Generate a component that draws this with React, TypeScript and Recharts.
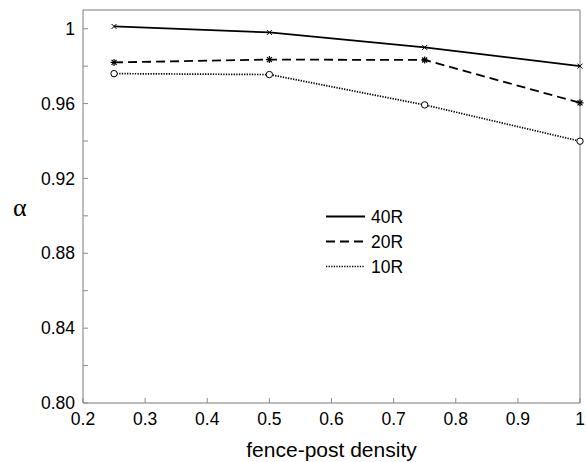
import { LineChart, Line, XAxis, YAxis, Legend } from 'recharts';

const densities = [0.25, 0.5, 0.75, 1];
const alpha40R = [1.0012, 0.998, 0.99, 0.98];
const alpha20R = [0.982, 0.9835, 0.9833, 0.9604];
const alpha10R = [0.976, 0.9755, 0.9593, 0.9399];

const xTicks = [0.2, 0.3, 0.4, 0.5, 0.6, 0.7, 0.8, 0.9, 1];
const xTickLabels = ['0.2', '0.3', '0.4', '0.5', '0.6', '0.7', '0.8', '0.9', '1'];
const yTicks = [0.8, 0.82, 0.84, 0.86, 0.88, 0.9, 0.92, 0.94, 0.96, 0.98, 1];
const yTickLabels = ['0.80', '', '0.84', '', '0.88', '', '0.92', '', '0.96', '', '1'];

const data = densities.map((x, i) => ({ x, r40: alpha40R[i], r20: alpha20R[i], r10: alpha10R[i] }));

const FONT = '"Liberation Sans", Arial, sans-serif';
const FRAME = '#7a7a7a';
const TICK = '#8c8c8c';

const SERIES = [
  { key: 'r40', name: '40R', dash: undefined, width: 1.8 },
  { key: 'r20', name: '20R', dash: '9 5', width: 1.8 },
  { key: 'r10', name: '10R', dash: '1.3 1.3', width: 1.7 },
];

const CrossDot = (p: any) => (
  <g key={p.key}>
    <line x1={p.cx - 2.5} y1={p.cy - 2.5} x2={p.cx + 2.5} y2={p.cy + 2.5} stroke="#000" strokeWidth={1} />
    <line x1={p.cx - 2.5} y1={p.cy + 2.5} x2={p.cx + 2.5} y2={p.cy - 2.5} stroke="#000" strokeWidth={1} />
  </g>
);

const StarDot = (p: any) => (
  <g key={p.key}>
    <line x1={p.cx - 3.5} y1={p.cy} x2={p.cx + 3.5} y2={p.cy} stroke="#000" strokeWidth={1.2} />
    <line x1={p.cx} y1={p.cy - 3.5} x2={p.cx} y2={p.cy + 3.5} stroke="#000" strokeWidth={1.2} />
    <line x1={p.cx - 2.5} y1={p.cy - 2.5} x2={p.cx + 2.5} y2={p.cy + 2.5} stroke="#000" strokeWidth={1.2} />
    <line x1={p.cx - 2.5} y1={p.cy + 2.5} x2={p.cx + 2.5} y2={p.cy - 2.5} stroke="#000" strokeWidth={1.2} />
  </g>
);

const CircleDot = (p: any) => (
  <circle key={p.key} cx={p.cx} cy={p.cy} r={3.2} fill="#fff" stroke="#000" strokeWidth={1} />
);

const LegendBox = () => (
  <svg width={100} height={76} style={{ display: 'block' }}>
    {SERIES.map((s, i) => {
      const y = 12.5 + i * 25;
      return (
        <g key={s.key}>
          <line x1={6} y1={y} x2={45} y2={y} stroke="#000" strokeWidth={s.width} strokeDasharray={s.dash} />
          <text x={51} y={y + 6} fontSize={17.5} fontFamily={FONT} fill="#000">{s.name}</text>
        </g>
      );
    })}
  </svg>
);

export default function App() {
  return (
    <div style={{ width: 586, height: 462, background: '#fff' }}>
      <style>{'body{margin:0}'}</style>
      <LineChart width={586} height={462} data={data} margin={{ top: 0, right: 0, bottom: 0, left: 0 }}>
        <XAxis
          dataKey="x" type="number" domain={[0.2, 1]} ticks={xTicks} interval={0}
          height={59} tickSize={-5} tickMargin={15}
          tickFormatter={(v, i) => xTickLabels[i]}
          tick={{ fill: '#000', fontSize: 17.5, fontFamily: FONT }}
          axisLine={{ stroke: FRAME }} tickLine={{ stroke: TICK }}
          label={{ value: 'fence-post density', position: 'insideBottom', offset: 5, fill: '#000', fontSize: 21, fontFamily: FONT }}
        />
        <XAxis
          xAxisId="top" orientation="top" type="number" domain={[0.2, 1]} ticks={xTicks} interval={0}
          height={10} tickSize={-5} tick={false}
          axisLine={{ stroke: FRAME }} tickLine={{ stroke: TICK }}
        />
        <YAxis
          type="number" domain={[0.8, 1.01]} ticks={yTicks} interval={0}
          width={83} tickSize={-5} tickMargin={13}
          tickFormatter={(v, i) => yTickLabels[i]}
          tick={{ fill: '#000', fontSize: 17.5, fontFamily: FONT }}
          axisLine={{ stroke: FRAME }} tickLine={{ stroke: TICK }}
          label={{ value: 'α', position: 'insideLeft', offset: 13, fill: '#000', fontSize: 26, fontFamily: '"Liberation Serif", "DejaVu Serif", serif' }}
        />
        <YAxis
          yAxisId="right" orientation="right" type="number" domain={[0.8, 1.01]} ticks={yTicks} interval={0}
          width={6} tickSize={-5} tick={false}
          axisLine={{ stroke: FRAME }} tickLine={{ stroke: TICK }}
        />
        <Legend
          layout="horizontal" verticalAlign="middle" align="center"
          content={LegendBox}
          wrapperStyle={{ left: 320, top: 204, width: 100, height: 76 }}
        />
        <Line dataKey="r40" name="40R" stroke="#000" strokeWidth={1.8} dot={CrossDot} isAnimationActive={false} />
        <Line dataKey="r20" name="20R" stroke="#000" strokeWidth={1.8} strokeDasharray="9 5" dot={StarDot} isAnimationActive={false} />
        <Line dataKey="r10" name="10R" stroke="#000" strokeWidth={1.7} strokeDasharray="1.3 1.3" dot={CircleDot} isAnimationActive={false} />
      </LineChart>
    </div>
  );
}
